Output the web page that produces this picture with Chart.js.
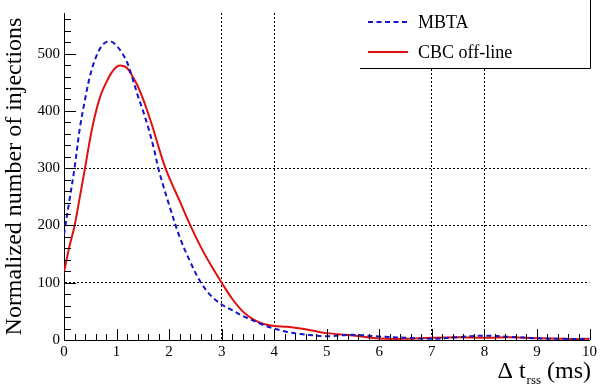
<!DOCTYPE html>
<html>
<head>
<meta charset="utf-8">
<script src="https://cdn.jsdelivr.net/npm/chart.js@4.4.1/dist/chart.umd.min.js"></script>
<style>
html,body{margin:0;padding:0;background:#fff;}
#wrap{width:600px;height:385px;}
</style>
</head>
<body>
<div id="wrap"><canvas id="c" width="600" height="385"></canvas></div>
<script>
// ---- data ----
const xValues = [0,0.1,0.2,0.3,0.4,0.5,0.6,0.7,0.8,0.9,1.0,1.1,1.2,1.3,1.4,1.5,1.6,1.7,1.8,1.9,2.0,2.2,2.4,2.6,2.8,3.0,3.2,3.4,3.6,3.8,4.0,4.25,4.5,4.75,5.0,5.5,6.0,6.5,7.0,7.5,8.0,8.5,9.0,9.5,10];
const mbta = [184,242,300,369,420,463,492,511,520,521,514,502,485,458,428,401,372,338,298,266,236,180,137,101,77,62,52,42,34,26,20,14,10.5,8,6.5,9,6,4,2,5,7.5,5.5,3,2,2];
const cbc  = [118,162,199,249,300,353,396,428,449,466,477,479,475,461,444,422,396,368,337,308,284,243,201,163,130,100,72,50,36,28,24.5,23,20,16,12,8,2.5,2,4,5,4,5,3,2,2];
const seriesNames = ['MBTA','CBC off-line'];
const xTickLabels = [0,1,2,3,4,5,6,7,8,9,10];
const yTickLabels = [0,100,200,300,400,500];
const xGridAt = [3,4,7,8];
const yGridAt = [100,200,300];
const yTitle = 'Normalized number of injections';
const xTitleMain = '\u0394 t', xTitleSub = 'rss', xTitleEnd = ' (ms)';

const FONT = "Liberation Serif";
const BLUE = '#1414c8', RED = '#e01010';
Chart.defaults.font.family = FONT;
Chart.defaults.color = '#000';

const toXY = arr => xValues.map((x,i)=>({x:x, y:arr[i]}));

const ticksPlugin = {
  id:'rootTicks',
  afterDraw(chart){
    const ctx = chart.ctx, xs = chart.scales.x, ys = chart.scales.y;
    const ca = chart.chartArea;
    ctx.save();
    ctx.strokeStyle = '#000'; ctx.lineWidth = 1;
    ctx.beginPath();
    for (let i=0;i<=50;i++){
      const v = i*0.2;
      const px = Math.round(xs.getPixelForValue(v))+0.5;
      const len = (i%5===0)?11:6;
      ctx.moveTo(px, ca.bottom); ctx.lineTo(px, ca.bottom-len);
    }
    for (let v=0; v<=560; v+=20){
      const py = Math.round(ys.getPixelForValue(v))+0.5;
      const len = (v%100===0)?12:7;
      ctx.moveTo(ca.left, py); ctx.lineTo(ca.left+len, py);
    }
    ctx.stroke();

    // legend box
    const bx0 = 360, bx1 = Math.round(ca.right)+0.5, by1 = 68.5;
    ctx.fillStyle = '#fff';
    ctx.fillRect(bx0, 0, bx1-bx0, by1);
    ctx.beginPath();
    ctx.moveTo(bx0, by1); ctx.lineTo(bx1, by1); ctx.lineTo(bx1, 0);
    ctx.stroke();
    const ds = chart.data.datasets;
    const rows = [22, 52];
    ds.forEach((d,i)=>{
      ctx.save();
      ctx.strokeStyle = d.borderColor;
      ctx.lineWidth = d.borderWidth;
      ctx.setLineDash(d.borderDash || []);
      ctx.beginPath(); ctx.moveTo(368, rows[i]); ctx.lineTo(408, rows[i]); ctx.stroke();
      ctx.restore();
      ctx.fillStyle = '#000';
      ctx.font = '18px "' + FONT + '", serif';
      ctx.textBaseline = 'middle';
      ctx.textAlign = 'left';
      ctx.fillText(d.label, 418, rows[i]+1);
    });

    // x axis title with subscript
    ctx.fillStyle = '#000';
    ctx.textBaseline = 'alphabetic';
    ctx.textAlign = 'left';
    const big = '24px "' + FONT + '", serif', small = '13px "' + FONT + '", serif';
    ctx.font = big; const w1 = ctx.measureText(xTitleMain).width; const w3 = ctx.measureText(xTitleEnd).width;
    ctx.font = small; const w2 = ctx.measureText(xTitleSub).width;
    let tx = 591 - (w1+w2+w3+1);
    const base = 378;
    ctx.font = big; ctx.fillText(xTitleMain, tx, base); tx += w1;
    ctx.font = small; ctx.fillText(xTitleSub, tx+1, base+6); tx += w2+1;
    ctx.font = big; ctx.fillText(xTitleEnd, tx, base);
    ctx.restore();
  }
};

new Chart(document.getElementById('c'), {
  type:'line',
  data:{
    datasets:[
      {label:seriesNames[0], data:toXY(mbta), borderColor:BLUE, borderWidth:2, borderDash:[5,3.5],
       pointRadius:0, fill:false, tension:0.35},
      {label:seriesNames[1], data:toXY(cbc), borderColor:RED, borderWidth:2,
       pointRadius:0, fill:false, tension:0.35}
    ]
  },
  options:{
    responsive:false, animation:false, devicePixelRatio:1,
    layout:{padding:{top:4,right:10,left:0,bottom:0}},
    plugins:{legend:{display:false}, tooltip:{enabled:false}, title:{display:false}},
    scales:{
      x:{
        type:'linear', min:0, max:10,
        afterFit(s){ s.height = 45; },
        afterBuildTicks(s){ s.ticks = xTickLabels.map(v=>({value:v})); },
        ticks:{stepSize:1, includeBounds:false, padding:3, color:'#000', font:{family:FONT, size:15}, maxRotation:0, autoSkip:false},
        grid:{drawTicks:false, lineWidth:1, color:c => (c.tick && xGridAt.includes(c.tick.value)) ? '#000' : 'rgba(0,0,0,0)'},
        border:{display:true, color:'#000', width:1, dash:[2,2]}
      },
      y:{
        type:'linear', min:0, max:571,
        afterFit(s){ s.width = 64; },
        afterBuildTicks(s){ s.ticks = yTickLabels.map(v=>({value:v})); },
        ticks:{stepSize:100, includeBounds:false, padding:4, color:'#000', font:{family:FONT, size:15}},
        grid:{drawTicks:false, lineWidth:1, color:c => (c.tick && yGridAt.includes(c.tick.value)) ? '#000' : 'rgba(0,0,0,0)'},
        border:{display:true, color:'#000', width:1, dash:[2,2]},
        title:{display:true, text:yTitle, color:'#000', font:{family:FONT, size:24}, padding:{top:0,bottom:0}}
      }
    }
  },
  plugins:[ticksPlugin]
});
</script>
</body>
</html>
